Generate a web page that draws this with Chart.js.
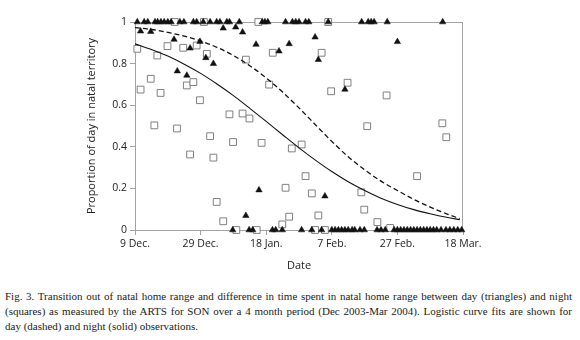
<!DOCTYPE html>
<html>
<head>
<meta charset="utf-8">
<script src="https://cdn.jsdelivr.net/npm/chart.js@4"></script>
<style>
  body { margin: 0; background: #fff; }
  #wrap { position: relative; width: 580px; height: 340px; }
  #caption {
    position: absolute; left: 5px; top: 289px; width: 567px;
    font-family: "Liberation Serif", serif; font-size: 11px; line-height: 15px; color: #222;
  }
  #caption div { text-align: justify; text-align-last: justify; }
  #caption div.last { text-align-last: left; }
</style>
</head>
<body>
<div id="wrap">
  <canvas id="natalChart" width="580" height="280"></canvas>
  <div id="caption">
    <div>Fig. 3. Transition out of natal home range and difference in time spent in natal home range between day (triangles) and night</div>
    <div>(squares) as measured by the ARTS for SON over a 4 month period (Dec 2003-Mar 2004). Logistic curve fits are shown for</div>
    <div class="last">day (dashed) and night (solid) observations.</div>
  </div>
</div>
<script>
// Tick labels (x is days since 9 Dec.)
const xTickLabels = ['9 Dec.', '29 Dec.', '18 Jan.', '7 Feb.', '27 Feb.', '18 Mar.'];
const yTickLabels = ['0', '0.2', '0.4', '0.6', '0.8', '1'];

// Day observations (triangles)
const dayX = [
  0.7, 2.8, 3.9, 6.1, 6.9, 7.9, 8.9, 10.0, 11.0, 13.7, 14.9, 17.8, 18.8, 20.8, 22.9, 24.9, 25.9, 28.0, 28.8, 31.8,
  38.8, 39.6, 40.5, 45.9, 48.0, 49.0, 50.0, 52.0, 53.0, 58.9, 69.1, 71.1, 72.0, 72.9, 76.9, 93.8,
  1.7, 4.8, 11.9, 12.9, 15.8, 16.8, 19.8, 21.6, 23.9, 26.9, 30.7, 32.8, 36.9, 43.9, 47.0, 54.9, 55.9, 64.0, 80.0,
  37.8, 33.8, 57.9,
  29.8, 34.8, 35.9, 41.9, 42.9, 44.9, 50.8, 53.9, 56.9, 60.0, 61.0, 62.0, 63.0, 64.0, 65.0, 66.2, 67.0, 68.6, 69.9,
  73.8, 75.0, 76.3, 79.0, 80.0, 81.0, 82.0, 83.0, 84.0, 85.0, 86.0, 87.0, 88.0, 89.0, 90.0, 91.0, 92.0, 93.3,
  94.8, 96.0, 97.2, 98.4, 99.6
];
const dayY = [
  1, 1, 1, 1, 1, 1, 1, 1, 1, 1, 1, 1, 1, 1, 1, 1, 1, 1, 1, 1,
  1, 1, 1, 1, 1, 1, 1, 1, 1, 1, 1, 1, 1, 1, 1, 1,
  0.956, 0.954, 0.916, 0.764, 0.743, 0.874, 0.906, 0.828, 0.80, 0.97, 0.975, 0.951, 0.892, 0.86, 0.895, 0.927, 0.819, 0.676, 0.905,
  0.192, 0.069, 0.163,
  0, 0, 0, 0, 0, 0, 0, 0, 0, 0, 0, 0, 0, 0, 0, 0, 0, 0, 0,
  0, 0, 0, 0, 0, 0, 0, 0, 0, 0, 0, 0, 0, 0, 0, 0, 0, 0,
  0, 0, 0, 0, 0
];

// Night observations (squares)
const nightX = [
  12.1, 21.0, 37.6, 58.9,
  0.7, 1.7, 4.8, 6.8, 7.8, 9.9, 14.7, 15.8, 17.8, 18.8, 19.8, 21.9, 28.8, 32.8, 33.8, 34.9,
  5.9, 12.8, 22.9, 29.9, 16.8, 23.9, 24.9, 26.9, 38.6, 47.8, 50.8, 52.0, 45.9, 53.9, 47.0, 55.9, 44.9,
  42.0, 56.9, 40.9, 64.8, 59.8, 76.7, 70.8, 93.7, 94.9, 86.0, 69.0, 69.9, 73.9, 77.8,
  30.9, 37.1, 54.9, 57.9
];
const nightY = [
  1, 1, 1, 1,
  0.871, 0.675, 0.727, 0.839, 0.659, 0.884, 0.876, 0.695, 0.711, 0.887, 0.624, 0.847, 0.556, 0.56, 0.819, 0.536,
  0.503, 0.488, 0.451, 0.423, 0.363, 0.348, 0.135, 0.042, 0.419, 0.392, 0.411, 0.259, 0.203, 0.176, 0.064, 0.07, 0.027,
  0.852, 0.852, 0.699, 0.708, 0.667, 0.647, 0.499, 0.513, 0.446, 0.259, 0.181, 0.098, 0.038, 0.01,
  0, 0, 0, 0
];

// Logistic fits
const fitDays = [0, 5, 10, 15, 20, 25, 30, 35, 40, 45, 50, 55, 60, 65, 70, 75, 80, 85, 90, 95, 99];
const dayFit = [0.973, 0.964, 0.950, 0.932, 0.909, 0.878, 0.839, 0.790, 0.731, 0.663, 0.587, 0.506, 0.426, 0.352, 0.290, 0.235, 0.190, 0.147, 0.110, 0.078, 0.055];
const nightFit = [0.895, 0.868, 0.836, 0.797, 0.753, 0.702, 0.646, 0.585, 0.522, 0.458, 0.395, 0.336, 0.281, 0.232, 0.190, 0.153, 0.123, 0.098, 0.078, 0.061, 0.050];

const toPoints = (xs, ys) => xs.map((x, i) => ({x: x, y: ys[i]}));

const axisGrey = '#a3a3a3';
const tickFont = {family: 'Open Sans', size: 10.5};

// Box round the plot area (top and right sides)
const plotFrame = {
    id: 'plotFrame',
    beforeDatasetsDraw(chart) {
        const {ctx, chartArea} = chart;
        ctx.save();
        ctx.strokeStyle = axisGrey;
        ctx.lineWidth = 1;
        ctx.strokeRect(chartArea.left + 0.5, chartArea.top + 0.5, chartArea.width - 1, chartArea.height);
        ctx.restore();
    }
};

new Chart(document.getElementById('natalChart'), {
    type: 'scatter',
    data: {
        datasets: [{
            label: 'Day fit',
            data: toPoints(fitDays, dayFit),
            showLine: true,
            borderColor: '#111',
            borderWidth: 1.3,
            borderDash: [5, 3],
            pointRadius: 0,
            cubicInterpolationMode: 'monotone',
            order: 1
        }, {
            label: 'Night fit',
            data: toPoints(fitDays, nightFit),
            showLine: true,
            borderColor: '#111',
            borderWidth: 1.1,
            pointRadius: 0,
            cubicInterpolationMode: 'monotone',
            order: 1
        }, {
            label: 'Day',
            data: toPoints(dayX, dayY),
            pointStyle: 'triangle',
            pointRadius: 3.7,
            backgroundColor: '#111',
            borderColor: '#111',
            borderWidth: 0.5,
            clip: false,
            order: 2
        }, {
            label: 'Night',
            data: toPoints(nightX, nightY),
            pointStyle: 'rect',
            pointRadius: 4.8,
            backgroundColor: '#fff',
            borderColor: '#808080',
            borderWidth: 1,
            clip: false,
            order: 3
        }]
    },
    options: {
        responsive: false,
        animation: false,
        layout: {padding: {left: 0, right: 117, top: 22, bottom: 0}},
        plugins: {
            legend: {display: false},
            tooltip: {enabled: false}
        },
        scales: {
            x: {
                type: 'linear',
                min: 0,
                max: 100,
                afterFit: scale => { scale.height = 50; },
                afterBuildTicks: scale => {
                    scale.ticks = xTickLabels.map((t, i) => ({value: i * 20}));
                },
                ticks: {
                    color: '#222',
                    font: tickFont,
                    padding: 3,
                    maxRotation: 0,
                    callback: (v, i) => xTickLabels[i]
                },
                grid: {drawOnChartArea: false, tickLength: 5, color: axisGrey},
                border: {color: axisGrey},
                title: {
                    display: true,
                    text: 'Date',
                    color: '#222',
                    font: {family: 'Open Sans', size: 11},
                    padding: {bottom: 8}
                }
            },
            y: {
                min: 0,
                max: 1,
                afterFit: scale => { scale.width = 135; },
                afterBuildTicks: scale => {
                    scale.ticks = yTickLabels.map((t, i) => ({value: i * 0.2}));
                },
                ticks: {
                    color: '#222',
                    font: tickFont,
                    padding: 3,
                    callback: (v, i) => yTickLabels[i]
                },
                grid: {drawOnChartArea: false, tickLength: 5, color: axisGrey},
                border: {color: axisGrey},
                title: {
                    display: true,
                    text: 'Proportion of day in natal territory',
                    color: '#222',
                    font: {family: 'Open Sans', size: 11},
                    padding: {top: 85}
                }
            }
        }
    },
    plugins: [plotFrame]
});
</script>
</body>
</html>
